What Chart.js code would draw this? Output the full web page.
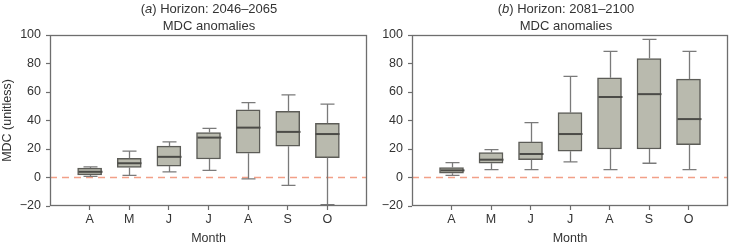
<!DOCTYPE html>
<html><head><meta charset="utf-8">
<script src="https://cdn.jsdelivr.net/npm/chart.js@4/dist/chart.umd.min.js"></script>
<style>
html,body{margin:0;padding:0;background:#fff;overflow:hidden}
#wrap{position:relative;width:730px;height:246px}
.p{position:absolute;top:0}
</style></head><body>
<div id="wrap">
<div class="p" style="left:0"><canvas id="ca" width="368" height="246"></canvas></div>
<div class="p" style="left:368px"><canvas id="cb" width="362" height="246"></canvas></div>
</div>
<script>
// ---- data ----
const months = ['A', 'M', 'J', 'J', 'A', 'S', 'O'];
const yTickMin = -20, yTickMax = 100, yTickStep = 20;

// (a) Horizon 2046–2065
const minA = [0.8, 1.5, 4, 5, -1, -5.5, -19];
const q1A  = [1.8, 7, 8, 13, 17, 22, 14];
const medA = [4, 10, 14.5, 28, 35, 32, 30.5];
const q3A  = [6.6, 13.5, 22, 31.5, 47.5, 46.5, 38];
const maxA = [7.4, 18.5, 25, 34.5, 52.5, 58, 51.5];

// (b) Horizon 2081–2100
const minB = [1.5, 5.5, 5.5, 11, 5.5, 10, 5.5];
const q1B  = [3, 10, 12.5, 18.5, 20, 20, 23];
const medB = [5, 12.5, 16.5, 30.5, 56.5, 58.5, 41];
const q3B  = [7, 17.5, 25, 45.5, 70, 83.5, 69];
const maxB = [10.5, 19.5, 38.5, 71, 88.5, 97, 88.5];

const refLine = 0;

// ---- styling ----
const FONT = "'Liberation Sans', Arial, Helvetica, sans-serif";
Chart.defaults.font.family = FONT;
Chart.defaults.color = '#333';

const boxPlugin = {
  id: 'boxWhisk',
  afterDatasetsDraw(chart) {
    const ds = chart.data.datasets.find(d => d.stats);
    if (!ds) return;
    const x = chart.scales.x, y = chart.scales.y, ctx = chart.ctx;
    const half = 12, cap = 7;
    ctx.save();
    ds.data.forEach((pt, i) => {
      const cx = Math.round(x.getPixelForValue(pt.x)) + 0.5;
      const yMin = y.getPixelForValue(ds.stats.min[i]);
      const yMax = y.getPixelForValue(ds.stats.max[i]);
      const yQ1 = y.getPixelForValue(pt.y[0]);
      const yQ3 = y.getPixelForValue(pt.y[1]);
      const yMed = y.getPixelForValue(ds.stats.med[i]);
      ctx.strokeStyle = '#7a7a7a';
      ctx.lineWidth = 1.3;
      ctx.beginPath();
      ctx.moveTo(cx, yQ3); ctx.lineTo(cx, yMax);
      ctx.moveTo(cx - cap, yMax); ctx.lineTo(cx + cap, yMax);
      ctx.moveTo(cx, yQ1); ctx.lineTo(cx, yMin);
      ctx.moveTo(cx - cap, yMin); ctx.lineTo(cx + cap, yMin);
      ctx.stroke();
      ctx.strokeStyle = '#4b4b47';
      ctx.lineWidth = 2;
      ctx.beginPath();
      ctx.moveTo(cx - half, yMed); ctx.lineTo(cx + half, yMed);
      ctx.stroke();
    });
    ctx.restore();
  }
};

const framePlugin = {
  id: 'frame',
  afterDraw(chart) {
    const a = chart.chartArea, ctx = chart.ctx;
    ctx.save();
    ctx.strokeStyle = '#6e6e6e';
    ctx.lineWidth = 1.3;
    ctx.strokeRect(Math.round(a.left) + 0.5, Math.round(a.top) + 0.5,
                   Math.round(a.right - a.left) - 1, Math.round(a.bottom - a.top) - 1);
    ctx.restore();
  }
};

const titlePlugin = {
  id: 'panelTitle',
  afterDraw(chart, args, opts) {
    const ctx = chart.ctx;
    ctx.save();
    ctx.fillStyle = '#333';
    ctx.textBaseline = 'alphabetic';
    const normal = '13px ' + FONT, ital = 'italic 13px ' + FONT;
    const parts = [['(', normal], [opts.letter, ital], [') Horizon: ' + opts.range, normal]];
    let w = 0;
    parts.forEach(p => { ctx.font = p[1]; w += ctx.measureText(p[0]).width; });
    let xx = opts.cx - w / 2;
    parts.forEach(p => { ctx.font = p[1]; ctx.textAlign = 'left'; ctx.fillText(p[0], xx, 12.5); xx += ctx.measureText(p[0]).width; });
    ctx.font = normal;
    ctx.textAlign = 'center';
    ctx.fillText('MDC anomalies', opts.cx, 30);
    ctx.restore();
  }
};

function makeChart(id, mins, q1s, meds, q3s, maxs, letter, range, cx, showYTitle, yWidth, padRight) {
  const gridOpts = { display: true, drawOnChartArea: false, drawTicks: true, tickLength: 4, color: '#6e6e6e', tickWidth: 1.2, offset: false };
  return new Chart(document.getElementById(id), {
    type: 'bar',
    data: {
      datasets: [
        {
          type: 'bar',
          data: months.map((m, i) => ({ x: i + 1, y: [q1s[i], q3s[i]] })),
          stats: { min: mins, med: meds, max: maxs },
          backgroundColor: '#b9baae',
          borderColor: '#5c5c57',
          borderWidth: 1.5,
          borderSkipped: false,
          barThickness: 24,
          grouped: false,
          order: 1
        },
        {
          type: 'line',
          data: [{ x: 0, y: refLine }, { x: 8, y: refLine }],
          borderColor: '#f2a088',
          borderDash: [7, 5],
          borderWidth: 1.5,
          pointRadius: 0,
          order: 2
        }
      ]
    },
    options: {
      responsive: false,
      animation: false,
      devicePixelRatio: 1,
      layout: { padding: { top: 35, right: padRight, bottom: 0, left: 0 } },
      plugins: {
        legend: { display: false },
        tooltip: { enabled: false },
        panelTitle: { letter: letter, range: range, cx: cx }
      },
      scales: {
        x: {
          type: 'linear', min: 0, max: 8, offset: false,
          afterBuildTicks: s => { s.ticks = months.map((m, i) => ({ value: i + 1 })); },
          afterFit: s => { s.height = 40; },
          ticks: { autoSkip: false, maxRotation: 0, padding: 2, font: { size: 12.5 },
                   callback: v => months[Math.round(v) - 1] ?? '' },
          grid: gridOpts,
          border: { display: false },
          title: { display: true, text: 'Month', font: { size: 12.5 }, padding: { top: 0, bottom: 0 } }
        },
        y: {
          min: yTickMin, max: yTickMax,
          afterFit: s => { s.width = yWidth; },
          ticks: { stepSize: yTickStep, padding: 5, font: { size: 12.5 },
                   callback: v => v < 0 ? '\u2212' + Math.abs(v) : String(v) },
          grid: gridOpts,
          border: { display: false },
          title: { display: showYTitle, text: 'MDC (unitless)', font: { size: 12.5 }, padding: { top: 0, bottom: 0 } }
        }
      }
    },
    plugins: [framePlugin, boxPlugin, titlePlugin]
  });
}

makeChart('ca', minA, q1A, medA, q3A, maxA, 'a', '2046–2065', 209, true, 50, 1);
makeChart('cb', minB, q1B, medB, q3B, maxB, 'b', '2081–2100', 198, false, 44, 2);
</script>
</body></html>
